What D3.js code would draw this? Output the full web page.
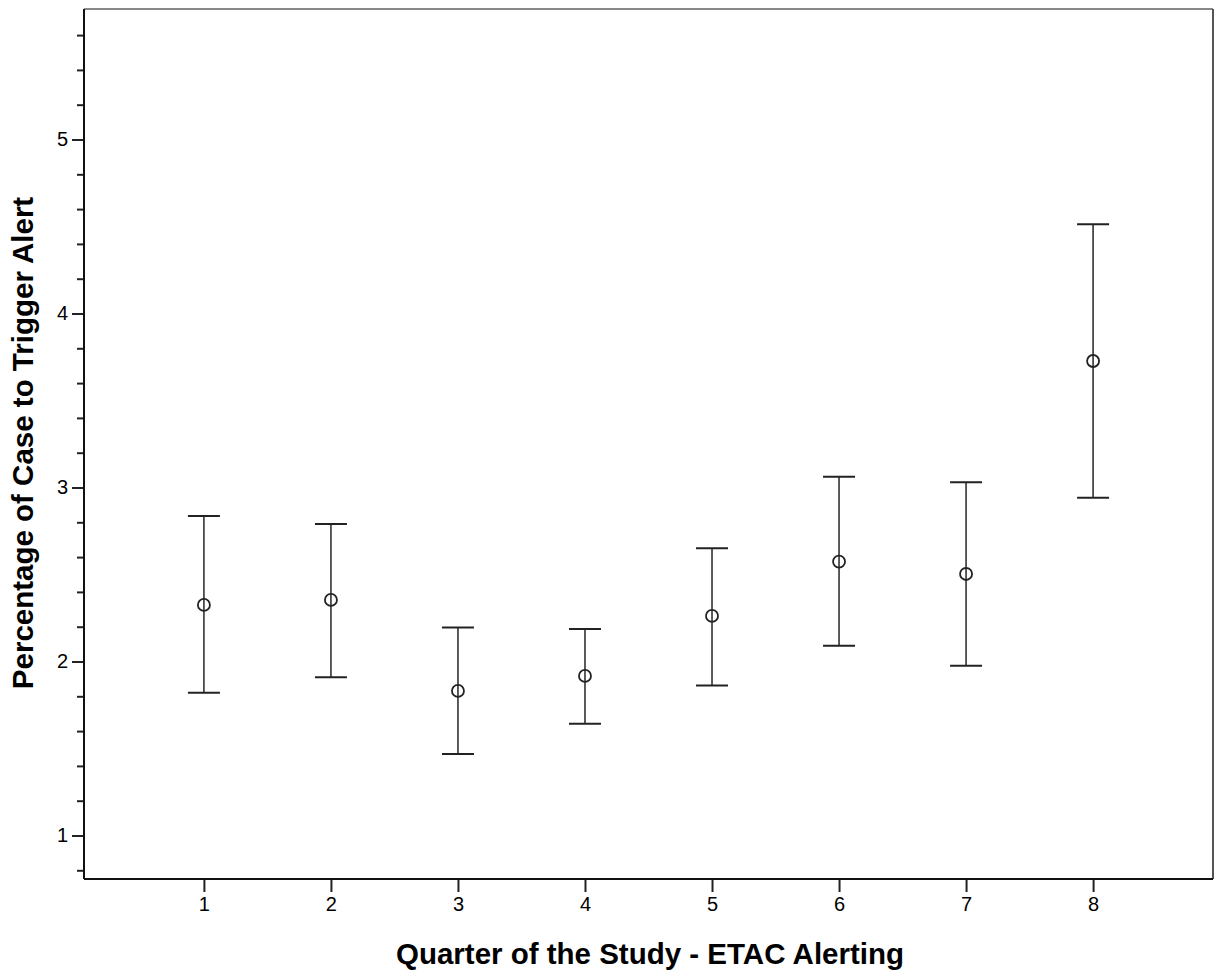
<!DOCTYPE html>
<html>
<head>
<meta charset="utf-8">
<script src="https://cdn.jsdelivr.net/npm/d3@7"></script>
<style>
  body { margin: 0; background: #fff; }
  svg text { font-family: "Liberation Sans", Arial, sans-serif; fill: #000; }
</style>
</head>
<body>
<svg id="chart" width="1217" height="975"></svg>
<script>
// error bar chart: mean with 95% CI per quarter

var quarters = ["1", "2", "3", "4", "5", "6", "7", "8"];
var means = [2.325, 2.354, 1.831, 1.917, 2.262, 2.574, 2.503, 3.727];
var upper = [2.836, 2.790, 2.195, 2.187, 2.651, 3.062, 3.030, 4.513];
var lower = [1.821, 1.910, 1.468, 1.642, 1.862, 2.091, 1.975, 2.941];
var yTicks = [1, 2, 3, 4, 5];

var xTitle = "Quarter of the Study - ETAC Alerting";
var yTitle = "Percentage of Case to Trigger Alert";

// plot box (note: "top" is reserved on window)
var pLeft = 84, pRight = 1213, pTop = 9, pBottom = 879;

var svg = d3.select("#chart");

var x = d3.scalePoint()
  .domain(quarters)
  .range([pLeft, pRight])
  .padding(0.944);

var y = d3.scaleLinear()
  .domain([0.75, 5.75])
  .range([pBottom, pTop]);

// minor ticks every 0.2
var minor = d3.range(0.8, 5.75, 0.2).filter(function(v) {
  return Math.abs(v - Math.round(v)) > 0.01;
});

var yAxis = svg.append("g")
  .attr("transform", "translate(" + pLeft + ",0)");
yAxis.call(d3.axisLeft(y).tickValues(minor).tickSize(7).tickFormat(""));
yAxis.append("g").call(d3.axisLeft(y).tickValues(yTicks).tickSize(12).tickPadding(4).tickFormat(d3.format("d")));
yAxis.selectAll(".domain").remove();
yAxis.selectAll("line").attr("stroke", "#222").attr("stroke-width", 2);
yAxis.selectAll("text").style("font-size", "20px").attr("fill", "#000");

var xAxis = svg.append("g")
  .attr("transform", "translate(0," + pBottom + ")")
  .call(d3.axisBottom(x).tickSize(13).tickPadding(5));
xAxis.selectAll(".domain").remove();
xAxis.selectAll("line").attr("stroke", "#222").attr("stroke-width", 2);
xAxis.selectAll("text").style("font-size", "20px").attr("fill", "#000");

// frame
svg.append("line").attr("x1", pLeft).attr("x2", pRight).attr("y1", pTop).attr("y2", pTop)
  .attr("stroke", "#888").attr("stroke-width", 2);
svg.append("line").attr("x1", pRight).attr("x2", pRight).attr("y1", pTop).attr("y2", pBottom)
  .attr("stroke", "#555").attr("stroke-width", 2);
svg.append("line").attr("x1", pLeft).attr("x2", pRight).attr("y1", pBottom).attr("y2", pBottom)
  .attr("stroke", "#111").attr("stroke-width", 2);
svg.append("line").attr("x1", pLeft).attr("x2", pLeft).attr("y1", pTop).attr("y2", pBottom)
  .attr("stroke", "#111").attr("stroke-width", 2);

// error bars
var bars = svg.append("g").selectAll("g")
  .data(quarters)
  .enter().append("g");

bars.append("line")
  .attr("x1", function(d) { return x(d); })
  .attr("x2", function(d) { return x(d); })
  .attr("y1", function(d, i) { return y(upper[i]); })
  .attr("y2", function(d, i) { return y(lower[i]); })
  .attr("stroke", "#333").attr("stroke-width", 1.6);

bars.append("line")
  .attr("x1", function(d) { return x(d) - 16; })
  .attr("x2", function(d) { return x(d) + 16; })
  .attr("y1", function(d, i) { return y(upper[i]); })
  .attr("y2", function(d, i) { return y(upper[i]); })
  .attr("stroke", "#222").attr("stroke-width", 2);

bars.append("line")
  .attr("x1", function(d) { return x(d) - 16; })
  .attr("x2", function(d) { return x(d) + 16; })
  .attr("y1", function(d, i) { return y(lower[i]); })
  .attr("y2", function(d, i) { return y(lower[i]); })
  .attr("stroke", "#222").attr("stroke-width", 2);

bars.append("circle")
  .attr("cx", function(d) { return x(d); })
  .attr("cy", function(d, i) { return y(means[i]); })
  .attr("r", 6)
  .attr("fill", "none")
  .attr("stroke", "#222").attr("stroke-width", 1.8);

// axis titles
svg.append("text")
  .attr("x", 650)
  .attr("y", 964)
  .attr("text-anchor", "middle")
  .style("font-size", "29.5px").style("font-weight", "bold")
  .text(xTitle);

svg.append("text")
  .attr("transform", "translate(33,443) rotate(-90)")
  .attr("text-anchor", "middle")
  .style("font-size", "29.5px").style("font-weight", "bold")
  .text(yTitle);
</script>
</body>
</html>
